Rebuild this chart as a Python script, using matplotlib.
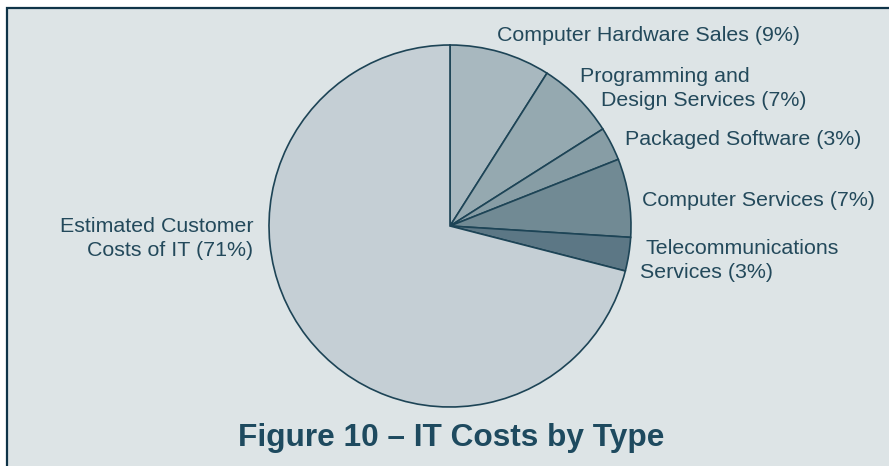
import matplotlib
matplotlib.use("Agg")
import matplotlib.pyplot as plt
from matplotlib.patches import Rectangle

plt.rcParams["font.family"] = ["Liberation Sans", "DejaVu Sans"]

# data, clockwise from 12 o'clock
categories = ["Computer Hardware Sales", "Programming and\nDesign Services",
              "Packaged Software", "Computer Services",
              "Telecommunications\nServices", "Estimated Customer\nCosts of IT"]
shares = [9, 7, 3, 7, 3, 71]
slice_colors = ["#A8B8BF", "#95A9B0", "#879DA5", "#718A94", "#5C7785", "#C5CFD5"]
title = "Figure 10 \u2013 IT Costs by Type"

W, H = 889, 466
BG = "#DDE4E6"
EDGE = "#1D4456"
INK = "#23495B"

fig = plt.figure(figsize=(W / 100, H / 100), dpi=100, facecolor="white")
ax = fig.add_axes([0, 0, 1, 1])
ax.axis("off")

# panel with dark rule on top and left (cropped on right/bottom)
fig.patches.append(Rectangle((6.5 / W, -0.1), 1.2, 1.1 - 7.5 / H,
                             transform=fig.transFigure, fc=BG, ec="#0F3448",
                             lw=1.6, zorder=-5))

ax.pie(shares, colors=slice_colors, startangle=90, counterclock=False,
       center=(450, H - 226), radius=181,
       wedgeprops=dict(ec=EDGE, lw=1.2))
ax.set_xlim(0, W)
ax.set_ylim(0, H)
ax.set_aspect("equal")

# label line anchors (px from left, baseline px from top)
line_pos = [
    [(497, 40.7, "left")],
    [(580, 81.5, "left"), (601, 106, "left")],
    [(625, 145, "left")],
    [(642, 206.5, "left")],
    [(646, 254, "left"), (640, 278.3, "left")],
    [(253, 231.7, "right"), (253, 256, "right")],
]
for name, v, lines in zip(categories, shares, line_pos):
    parts = name.split("\n")
    parts[-1] = f"{parts[-1]} ({v}%)"
    for txt, (x, yb, ha) in zip(parts, lines):
        ax.text(x, H - yb, txt, ha=ha, va="baseline", fontsize=15.4, color=INK)

ax.text(451, H - 445.7, title, ha="center", va="baseline", fontsize=22.8,
        fontweight="bold", color="#1E4A5F")

fig.savefig("out.png", dpi=100, facecolor="white")
